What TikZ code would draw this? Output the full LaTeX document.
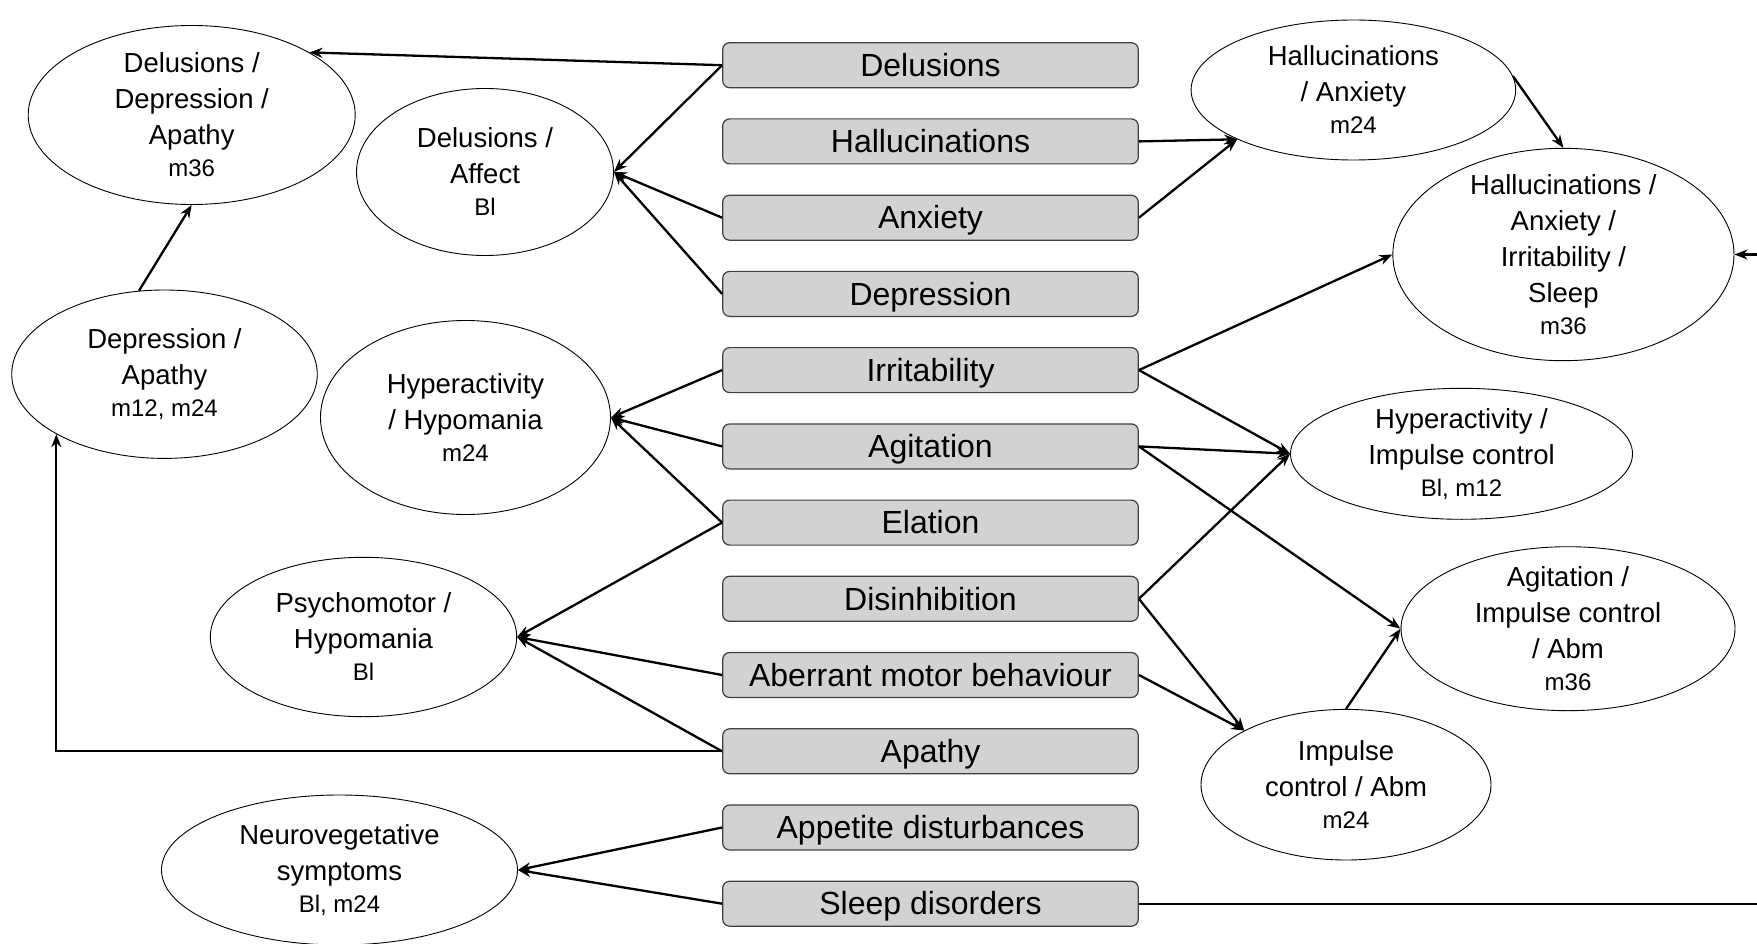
\documentclass[tikz,border=0pt]{standalone}
\usepackage{fontspec}
\setmainfont{Liberation Sans}
\usetikzlibrary{arrows.meta,shapes.geometric}
\newcommand{\smline}[1]{{\fontsize{24}{28}\selectfont #1}}
\tikzset{
  sbox/.style={draw=black!75, line width=1.2pt, fill=black!17.5, rounded corners=7pt,
    minimum width=415.6pt, minimum height=45pt, inner xsep=0pt, inner ysep=0pt,
    text height=22.5pt, text depth=0pt, font=\fontsize{32}{36}\selectfont},
  ell/.style={draw=black, line width=0.9pt, ellipse, inner xsep=0pt, inner ysep=-50pt,
    align=center, font=\fontsize{27.5}{36}\selectfont},
  arr/.style={-{Stealth[length=13pt,width=10pt]}, line width=2.3pt, black},
  plain/.style={line width=2.3pt, black}
}
\begin{document}
\begin{tikzpicture}[x=1pt,y=-1pt]
\useasboundingbox (0,0) rectangle (1757,944);
% symptom boxes
\node[sbox] (b1)  at (930.5, 65.2)  {Delusions};
\node[sbox] (b2)  at (930.5, 141.4) {Hallucinations};
\node[sbox] (b3)  at (930.5, 217.7) {Anxiety};
\node[sbox] (b4)  at (930.5, 293.9) {Depression};
\node[sbox] (b5)  at (930.5, 370.1) {Irritability};
\node[sbox] (b6)  at (930.5, 446.4) {Agitation};
\node[sbox] (b7)  at (930.5, 522.6) {Elation};
\node[sbox] (b8)  at (930.5, 598.8) {Disinhibition};
\node[sbox] (b9)  at (930.5, 675.0) {Aberrant motor behaviour};
\node[sbox] (b10) at (930.5, 751.3) {Apathy};
\node[sbox] (b11) at (930.5, 827.5) {Appetite disturbances};
\node[sbox] (b12) at (930.5, 903.7) {Sleep disorders};
% factor ellipses
\node[ell, minimum width=327pt, minimum height=179pt] (A) at (191.7,115)
  {Delusions /\\ Depression /\\ Apathy\\[-4pt] \smline{m36}};
\node[ell, minimum width=257pt, minimum height=167pt] (B) at (485,172)
  {Delusions /\\ Affect\\[-4pt] \smline{Bl}};
\node[ell, minimum width=305.6pt, minimum height=168.4pt] (C) at (164.5,374.2)
  {Depression /\\ Apathy\\[-4pt] \smline{m12, m24}};
\node[ell, minimum width=290pt, minimum height=194pt] (D) at (465.5,417.5)
  {Hyperactivity\\ / Hypomania\\[-4pt] \smline{m24}};
\node[ell, minimum width=306.4pt, minimum height=159.4pt] (E) at (363.5,637)
  {Psychomotor /\\ Hypomania\\[-4pt] \smline{Bl}};
\node[ell, minimum width=356pt, minimum height=150pt] (F) at (339.5,870)
  {Neurovegetative\\ symptoms\\[-4pt] \smline{Bl, m24}};
\node[ell, minimum width=324.6pt, minimum height=140pt] (G) at (1353.4,90)
  {Hallucinations\\ / Anxiety\\[-4pt] \smline{m24}};
\node[ell, minimum width=341.2pt, minimum height=212.4pt] (H) at (1563.4,254.5)
  {Hallucinations /\\ Anxiety /\\ Irritability /\\ Sleep\\[-4pt] \smline{m36}};
\node[ell, minimum width=342pt, minimum height=131pt] (I) at (1461.5,453.8)
  {Hyperactivity /\\ Impulse control\\[-4pt] \smline{Bl, m12}};
\node[ell, minimum width=334pt, minimum height=164pt] (J) at (1568,628.7)
  {Agitation /\\ Impulse control\\ / Abm\\[-4pt] \smline{m36}};
\node[ell, minimum width=290pt, minimum height=150.6pt] (K) at (1346,784.7)
  {Impulse\\ control / Abm\\[-4pt] \smline{m24}};
% free ends at the right edge
\coordinate (rs) at (1757,903.7);
\coordinate (rh) at (1757,254.5);
% connectors
\draw[arr] (b1.west) -- (A.28);
\draw[arr] (b1.west) -- (B.east);
\draw[arr] (b3.west) -- (B.east);
\draw[arr] (b4.west) -- (B.east);
\draw[arr] (b2.east) -- (G.203);
\draw[arr] (b3.east) -- (G.203);
\draw[arr] (G.5) -- (H.north);
\draw[arr] (b5.east) -- (H.west);
\draw[arr] (b5.east) -- (I.west);
\draw[arr] (b6.east) -- (I.west);
\draw[arr] (b6.east) -- (J.west);
\draw[arr] (b8.east) -- (I.west);
\draw[arr] (b8.east) -- (K.152);
\draw[arr] (b9.east) -- (K.152);
\draw[arr] (K.north) -- (J.west);
\draw[arr] (b5.west) -- (D.east);
\draw[arr] (b6.west) -- (D.east);
\draw[arr] (b7.west) -- (D.east);
\draw[arr] (b7.west) -- (E.east);
\draw[arr] (b9.west) -- (E.east);
\draw[arr] (b10.west) -- (E.east);
\draw[arr] (b10.west) -| (C.209);
\draw[arr] (C.107) -- (A.south);
\draw[arr] (b11.west) -- (F.east);
\draw[arr] (b12.west) -- (F.east);
\draw[plain] (b12.east) -- (rs);
\draw[arr] (rh) -- (H.east);
\end{tikzpicture}
\end{document}
